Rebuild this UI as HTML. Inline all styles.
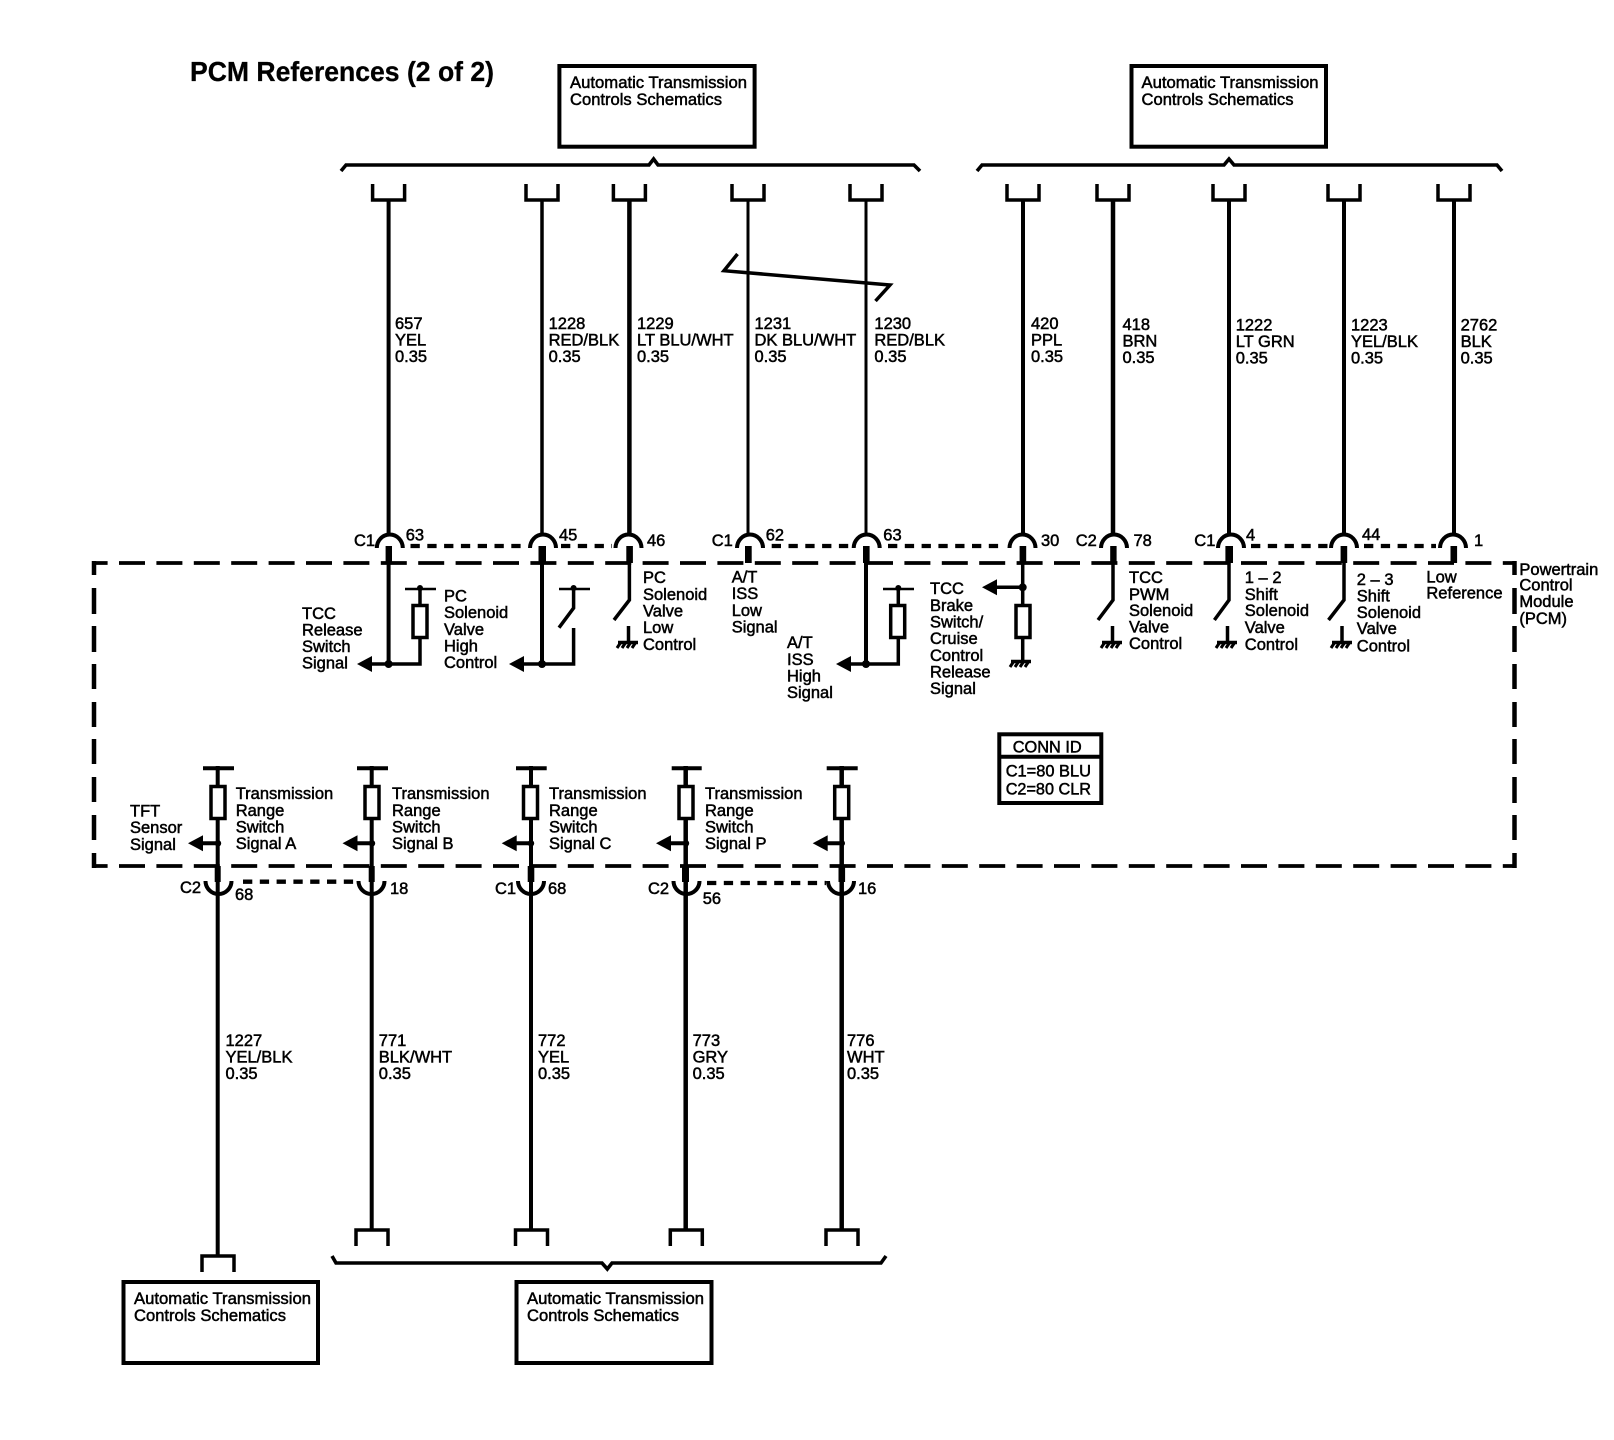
<!DOCTYPE html>
<html>
<head>
<meta charset="utf-8">
<style>
html,body{margin:0;padding:0;background:#fff}
svg{display:block}
text{font-family:"Liberation Sans",Arial,sans-serif;font-size:16.5px;fill:#000;stroke:#000;stroke-width:.5px}
.t{font-size:28px;font-weight:bold;stroke:#000;stroke-width:.3px}
.w{fill:none;stroke:#000;stroke-linejoin:miter}
</style>
</head>
<body>
<svg width="1614" height="1440" viewBox="0 0 1614 1440" xmlns="http://www.w3.org/2000/svg">
<defs>
<g id="gnd"><path d="M-10,1.5H10" stroke="#000" stroke-width="3.5" fill="none"/><path d="M-7,1L-11,7M-2,1L-6,7M3,1L-1,7M8,1L4,7" stroke="#000" stroke-width="3" fill="none"/></g>
<g id="arcT"><path d="M-13,14A13,13.5 0 0 1 13,14" fill="none" stroke="#000" stroke-width="4"/></g>
<g id="arcB"><path d="M-13,-12A13,13 0 0 0 13,-12" fill="none" stroke="#000" stroke-width="4"/></g>
<g id="uT"><path d="M-16,0V16H16V0" fill="none" stroke="#000" stroke-width="3.5"/></g>
<g id="uB"><path d="M-16,16V0H16V16" fill="none" stroke="#000" stroke-width="3.5"/></g>
<g id="res"><rect x="-7" y="0" width="14" height="32" fill="#fff" stroke="#000" stroke-width="3.5"/></g>
<g id="arrow"><path d="M0,0L15,-8V8Z" fill="#000"/></g>
</defs>
<rect width="1614" height="1440" fill="#fff"/>

<text class="t" x="190" y="81" textLength="304" lengthAdjust="spacingAndGlyphs">PCM References (2 of 2)</text>

<!-- schematics boxes -->
<rect x="559.4" y="66" width="195.2" height="80.7" class="w" stroke-width="4"/>
<rect x="1131.5" y="66" width="194.5" height="80.7" class="w" stroke-width="4"/>
<rect x="123.5" y="1282" width="194.5" height="81" class="w" stroke-width="4"/>
<rect x="516.5" y="1282" width="195" height="81" class="w" stroke-width="4"/>
<text x="570" y="88" textLength="177" lengthAdjust="spacingAndGlyphs">Automatic Transmission</text>
<text x="570" y="105" textLength="152" lengthAdjust="spacingAndGlyphs">Controls Schematics</text>
<text x="1141.5" y="88" textLength="177" lengthAdjust="spacingAndGlyphs">Automatic Transmission</text>
<text x="1141.5" y="105" textLength="152" lengthAdjust="spacingAndGlyphs">Controls Schematics</text>
<text x="134" y="1304" textLength="177" lengthAdjust="spacingAndGlyphs">Automatic Transmission</text>
<text x="134" y="1321" textLength="152" lengthAdjust="spacingAndGlyphs">Controls Schematics</text>
<text x="527" y="1304" textLength="177" lengthAdjust="spacingAndGlyphs">Automatic Transmission</text>
<text x="527" y="1321" textLength="152" lengthAdjust="spacingAndGlyphs">Controls Schematics</text>

<!-- braces -->
<g fill="none" stroke="#000" stroke-width="3.6">
<path d="M341,171L346,165H649L653.6,159L658,165H914L920,171"/>
<path d="M977,171L982,165H1224L1229,159L1234,165H1497L1502,171"/>
<path d="M332,1256L336,1263H602L607.3,1269L612,1263H881L886,1256"/>
</g>

<!-- top U connectors -->
<use href="#uT" x="388.6" y="184"/><use href="#uT" x="542" y="184"/><use href="#uT" x="629.4" y="184"/><use href="#uT" x="748" y="184"/><use href="#uT" x="866" y="184"/>
<use href="#uT" x="1023" y="184"/><use href="#uT" x="1113" y="184"/><use href="#uT" x="1229" y="184"/><use href="#uT" x="1344" y="184"/><use href="#uT" x="1454" y="184"/>

<!-- top wires -->
<g stroke="#000" fill="none">
<path d="M388.6,200V534" stroke-width="4"/>
<path d="M542,200V534" stroke-width="3.5"/>
<path d="M629.4,200V534" stroke-width="4.5"/>
<path d="M748,200V534" stroke-width="3"/>
<path d="M866,200V534" stroke-width="3"/>
<path d="M1023,200V534" stroke-width="4"/>
<path d="M1113,200V534" stroke-width="4.5"/>
<path d="M1229,200V534" stroke-width="4"/>
<path d="M1344,200V534" stroke-width="4"/>
<path d="M1454,200V534" stroke-width="4"/>
</g>

<!-- break -->
<path d="M737.5,254L724,270.7L890,285L875.5,301" fill="none" stroke="#000" stroke-width="3.5"/>

<!-- wire labels top -->
<text x="395" y="329">657</text><text x="395" y="345.7">YEL</text><text x="395" y="362">0.35</text>
<text x="548.6" y="329">1228</text><text x="548.6" y="345.7">RED/BLK</text><text x="548.6" y="362">0.35</text>
<text x="637" y="329">1229</text><text x="637" y="345.7">LT BLU/WHT</text><text x="637" y="362">0.35</text>
<text x="754.5" y="329">1231</text><text x="754.5" y="345.7">DK BLU/WHT</text><text x="754.5" y="362">0.35</text>
<text x="874.4" y="329">1230</text><text x="874.4" y="345.7">RED/BLK</text><text x="874.4" y="362">0.35</text>
<text x="1031" y="329">420</text><text x="1031" y="345.7">PPL</text><text x="1031" y="362">0.35</text>
<text x="1122.5" y="330">418</text><text x="1122.5" y="346.7">BRN</text><text x="1122.5" y="363">0.35</text>
<text x="1235.7" y="330.5">1222</text><text x="1235.7" y="347">LT GRN</text><text x="1235.7" y="363.5">0.35</text>
<text x="1351" y="330.5">1223</text><text x="1351" y="347">YEL/BLK</text><text x="1351" y="363.5">0.35</text>
<text x="1460.6" y="330.5">2762</text><text x="1460.6" y="347">BLK</text><text x="1460.6" y="363.5">0.35</text>

<!-- PCM dashed box -->
<g fill="none" stroke="#000" stroke-width="3.8">
<path d="M92,563H1516" stroke-dasharray="26 11.4" stroke-dashoffset="10.4"/>
<path d="M92,866H1516" stroke-dasharray="26 11.4" stroke-dashoffset="10.4"/>
</g>
<g fill="none" stroke="#000" stroke-width="4.5">
<path d="M94,561V575M94,588V614M94,626V652M94,664V689M94,702V727M94,739V764M94,777V802M94,815V840M94,853V868"/>
<path d="M1514.5,561V575M1514.5,588V614M1514.5,626V652M1514.5,664V689M1514.5,702V727M1514.5,739V764M1514.5,777V803M1514.5,815V840M1514.5,853V868"/>
</g>

<!-- dashed connector shields -->
<g fill="none" stroke="#000" stroke-width="4.3" stroke-dasharray="9.3 7.5">
<path d="M410.5,546H527"/><path d="M561,546H612"/><path d="M771.7,546H849"/><path d="M888,546H1005"/><path d="M1251,546H1330"/><path d="M1364,546H1436"/>
<path d="M243,881.7H356"/><path d="M707,883H826"/>
</g>

<!-- top arcs and pins -->
<use href="#arcT" x="389.8" y="534"/><use href="#arcT" x="543" y="534"/><use href="#arcT" x="628.5" y="534"/><use href="#arcT" x="750" y="534"/><use href="#arcT" x="866.7" y="534"/>
<use href="#arcT" x="1022.5" y="534"/><use href="#arcT" x="1114" y="534"/><use href="#arcT" x="1231" y="534"/><use href="#arcT" x="1344" y="534"/><use href="#arcT" x="1453" y="534"/>
<g fill="#000">
<rect x="385.6" y="546" width="6.4" height="17"/><rect x="538.5" y="546" width="7.5" height="17"/><rect x="626.3" y="546" width="6.6" height="17"/><rect x="745" y="546" width="6.7" height="17"/><rect x="863" y="546" width="6.6" height="17"/>
<rect x="1019.6" y="546" width="6.6" height="17"/><rect x="1110.2" y="546" width="6.4" height="17"/><rect x="1225.4" y="546" width="7.6" height="17"/><rect x="1340.6" y="546" width="6.6" height="17"/><rect x="1450.5" y="546" width="6.6" height="17"/>
</g>

<!-- C1 63 -->
<path d="M388.6,563V664" stroke="#000" stroke-width="4" fill="none"/>
<use href="#arrow" x="357" y="664"/>
<path d="M372,664H420V637M420,604V589" stroke="#000" stroke-width="3.5" fill="none"/>
<path d="M405,589H436" stroke="#000" stroke-width="2.5"/>
<circle cx="420" cy="588" r="3" fill="#000"/><circle cx="388.6" cy="664" r="4" fill="#000"/>
<use href="#res" x="420" y="605.5"/>

<!-- 45 -->
<path d="M542,563V664" stroke="#000" stroke-width="4" fill="none"/>
<use href="#arrow" x="509" y="664"/>
<path d="M524,664H573.6V628M573.6,589V608L559,627.7" stroke="#000" stroke-width="3.5" fill="none"/>
<path d="M559,589H590" stroke="#000" stroke-width="2.5"/>
<circle cx="573.6" cy="588" r="3" fill="#000"/><circle cx="542" cy="664" r="4" fill="#000"/>

<!-- 46 -->
<path d="M629.4,563V600L614,620" stroke="#000" stroke-width="3.5" fill="none"/>
<path d="M628.5,626V643" stroke="#000" stroke-width="3.5" fill="none"/>
<use href="#gnd" x="628" y="641"/>

<!-- 63 second -->
<path d="M866,563V664" stroke="#000" stroke-width="4" fill="none"/>
<use href="#arrow" x="836" y="664"/>
<path d="M850,664H898.3V637M898.3,604V589" stroke="#000" stroke-width="3.5" fill="none"/>
<path d="M883,589H914" stroke="#000" stroke-width="2.5"/>
<circle cx="898.3" cy="588" r="3" fill="#000"/><circle cx="866" cy="664" r="4" fill="#000"/>
<use href="#res" x="897.7" y="605.5"/>

<!-- 30 -->
<path d="M1022.7,563V660" stroke="#000" stroke-width="3.5" fill="none"/>
<use href="#arrow" x="982" y="587.3"/>
<path d="M997,587.3H1022.7" stroke="#000" stroke-width="3.5" fill="none"/>
<circle cx="1022.7" cy="587.3" r="4" fill="#000"/>
<use href="#res" x="1023" y="605.5"/>
<use href="#gnd" x="1021" y="660"/>

<!-- 78, 4, 44 -->
<path d="M1113,563V600L1098,620" stroke="#000" stroke-width="3.5" fill="none"/>
<path d="M1112.5,626V643" stroke="#000" stroke-width="3.5" fill="none"/><use href="#gnd" x="1112" y="641"/>
<path d="M1229,563V600L1214.4,620" stroke="#000" stroke-width="3.5" fill="none"/>
<path d="M1227.5,626V643" stroke="#000" stroke-width="3.5" fill="none"/><use href="#gnd" x="1227" y="641"/>
<path d="M1344,563V600L1328.5,620" stroke="#000" stroke-width="3.5" fill="none"/>
<path d="M1342,626V643" stroke="#000" stroke-width="3.5" fill="none"/><use href="#gnd" x="1342" y="641"/>

<!-- connector labels top -->
<text x="354" y="546">C1</text><text x="405.7" y="540.7">63</text><text x="559" y="540.7">45</text><text x="647" y="546">46</text>
<text x="711.7" y="546">C1</text><text x="765.7" y="540.7">62</text><text x="883.3" y="540.7">63</text><text x="1041" y="546">30</text>
<text x="1075.7" y="546">C2</text><text x="1133.5" y="546">78</text><text x="1194.3" y="546">C1</text><text x="1246" y="540.7">4</text><text x="1362" y="540">44</text><text x="1474" y="546">1</text>

<!-- inner labels -->
<text x="302" y="619">TCC</text><text x="302" y="635.5">Release</text><text x="302" y="652">Switch</text><text x="302" y="668.5">Signal</text>
<text x="444" y="601.7">PC</text><text x="444" y="618">Solenoid</text><text x="444" y="635">Valve</text><text x="444" y="651.7">High</text><text x="444" y="668">Control</text>
<text x="643" y="583">PC</text><text x="643" y="600">Solenoid</text><text x="643" y="616.7">Valve</text><text x="643" y="633">Low</text><text x="643" y="650">Control</text>
<text x="731.7" y="582.7">A/T</text><text x="731.7" y="599">ISS</text><text x="731.7" y="616">Low</text><text x="731.7" y="632.7">Signal</text>
<text x="787" y="648">A/T</text><text x="787" y="665">ISS</text><text x="787" y="681.7">High</text><text x="787" y="698">Signal</text>
<text x="930" y="594">TCC</text><text x="930" y="611">Brake</text><text x="930" y="627.7">Switch/</text><text x="930" y="644">Cruise</text><text x="930" y="661">Control</text><text x="930" y="677.7">Release</text><text x="930" y="694">Signal</text>
<text x="1129" y="583">TCC</text><text x="1129" y="600">PWM</text><text x="1129" y="616">Solenoid</text><text x="1129" y="632.7">Valve</text><text x="1129" y="649">Control</text>
<text x="1244.8" y="583">1 – 2</text><text x="1244.8" y="600">Shift</text><text x="1244.8" y="616">Solenoid</text><text x="1244.8" y="633">Valve</text><text x="1244.8" y="650">Control</text>
<text x="1356.8" y="585">2 – 3</text><text x="1356.8" y="601.7">Shift</text><text x="1356.8" y="618">Solenoid</text><text x="1356.8" y="634">Valve</text><text x="1356.8" y="651.7">Control</text>
<text x="1426.4" y="582.7">Low</text><text x="1426.4" y="598.7">Reference</text>
<text x="1519.4" y="575">Powertrain</text><text x="1519.4" y="590.7">Control</text><text x="1519.4" y="607">Module</text><text x="1519.4" y="624">(PCM)</text>

<!-- CONN ID -->
<rect x="999.3" y="734.3" width="102" height="68.7" fill="#fff" stroke="#000" stroke-width="4"/>
<path d="M999.3,756.7H1101.3" stroke="#000" stroke-width="4"/>
<text x="1012.7" y="752.3" textLength="69" lengthAdjust="spacingAndGlyphs">CONN ID</text>
<text x="1005.7" y="776.7" textLength="85.3" lengthAdjust="spacingAndGlyphs">C1=80 BLU</text>
<text x="1005.7" y="794.3" textLength="85.3" lengthAdjust="spacingAndGlyphs">C2=80 CLR</text>

<!-- bottom row -->
<g fill="none" stroke="#000">
<path d="M217.7,766V1256" stroke-width="4"/>
<path d="M371.7,766V1229" stroke-width="4"/>
<path d="M531,766V1229" stroke-width="4"/>
<path d="M685.7,766V1229" stroke-width="4.5"/>
<path d="M841.7,766V1229" stroke-width="4.5"/>
<path d="M203,768.3H234M357,768.3H388M516,768.3H546.7M671.7,768.3H701.7M826.7,768.3H857.7" stroke-width="4"/>
<path d="M203,843.3H218M357,843.3H372M516,843.3H531M670,843.3H686M826,843.3H842" stroke-width="4"/>
</g>
<use href="#res" x="218" y="786.5"/><use href="#res" x="372" y="786.5"/><use href="#res" x="530.5" y="786.5"/><use href="#res" x="686" y="786.5"/><use href="#res" x="841.7" y="786.5"/>
<use href="#arrow" x="188" y="843.3"/><use href="#arrow" x="342.5" y="843.3"/><use href="#arrow" x="501.7" y="843.3"/><use href="#arrow" x="656" y="843.3"/><use href="#arrow" x="812.7" y="843.3"/>
<g fill="#000">
<circle cx="218" cy="843.3" r="3.2"/><circle cx="372" cy="843.3" r="3.2"/><circle cx="531" cy="843.3" r="3.2"/><circle cx="686" cy="843.3" r="3.2"/><circle cx="842" cy="843.3" r="3"/>
<rect x="214.7" y="866" width="6" height="16"/><rect x="368.7" y="866" width="6" height="16"/><rect x="527.7" y="866" width="6.6" height="16"/><rect x="682" y="866" width="7" height="16"/><rect x="838.5" y="866" width="6.6" height="16"/>
</g>
<use href="#arcB" x="218.5" y="893"/><use href="#arcB" x="371.5" y="893"/><use href="#arcB" x="531" y="893"/><use href="#arcB" x="686.5" y="893"/><use href="#arcB" x="841" y="893"/>

<text x="235.7" y="799">Transmission</text><text x="235.7" y="816">Range</text><text x="235.7" y="832.7">Switch</text><text x="235.7" y="849">Signal A</text>
<text x="392" y="799">Transmission</text><text x="392" y="816">Range</text><text x="392" y="832.7">Switch</text><text x="392" y="849">Signal B</text>
<text x="549" y="799">Transmission</text><text x="549" y="816">Range</text><text x="549" y="832.7">Switch</text><text x="549" y="849">Signal C</text>
<text x="705" y="799">Transmission</text><text x="705" y="816">Range</text><text x="705" y="832.7">Switch</text><text x="705" y="849">Signal P</text>
<text x="130" y="816.7">TFT</text><text x="130" y="833">Sensor</text><text x="130" y="850">Signal</text>

<text x="180" y="893">C2</text><text x="235" y="900">68</text><text x="390" y="894">18</text><text x="495" y="894">C1</text><text x="548" y="894">68</text><text x="648" y="894">C2</text><text x="702.7" y="904">56</text><text x="858" y="894">16</text>

<text x="225.5" y="1046">1227</text><text x="225.5" y="1062.7">YEL/BLK</text><text x="225.5" y="1079">0.35</text>
<text x="378.8" y="1046">771</text><text x="378.8" y="1062.7">BLK/WHT</text><text x="378.8" y="1079">0.35</text>
<text x="538" y="1046">772</text><text x="538" y="1062.7">YEL</text><text x="538" y="1079">0.35</text>
<text x="692.6" y="1046">773</text><text x="692.6" y="1062.7">GRY</text><text x="692.6" y="1079">0.35</text>
<text x="847" y="1046">776</text><text x="847" y="1062.7">WHT</text><text x="847" y="1079">0.35</text>

<use href="#uB" x="218" y="1256"/>
<use href="#uB" x="372" y="1230"/><use href="#uB" x="531.5" y="1230"/><use href="#uB" x="686.3" y="1230"/><use href="#uB" x="842" y="1230"/>
</svg>
</body>
</html>
